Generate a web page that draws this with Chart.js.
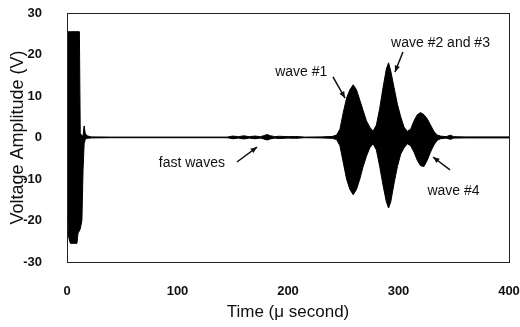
<!DOCTYPE html>
<html>
<head>
<meta charset="utf-8">
<script src="https://cdn.jsdelivr.net/npm/chart.js@4.4.1/dist/chart.umd.min.js"></script>
<style>
  html, body { margin: 0; padding: 0; background: #fff; }
  #wrap { width: 520px; height: 327px; }
</style>
</head>
<body>
<div id="wrap"><canvas id="wave-chart"></canvas></div>
<script>
// time in microseconds, envelope of the received signal in volts
const timeUs = [
  0, 0.5, 1.5, 3, 9, 10, 11.2, 12, 13.5, 14.5, 15.5, 16.5, 18, 22, 40, 80, 120,
  145, 150, 155, 160, 165, 170, 175, 178, 181, 184, 188, 192, 200, 207, 215, 230, 240,
  244, 247, 250, 253, 256, 259, 262, 265, 268, 271, 274, 277,
  280, 283, 286, 289, 291, 293, 296, 299, 302, 305, 308,
  311, 314, 317, 320, 323, 326, 329, 332, 335, 338,
  343, 347, 350, 360, 400
];
const upperV = [
  0, 25.5, 25.5, 25.5, 25.5, 25.5, 25.5, 1, 0.5, 0.3, 2.8, 1, 0.4, 0.15, 0.1, 0.1, 0.1,
  0.1, 0.35, 0.2, 0.4, 0.2, 0.35, 0.2, 0.45, 0.7, 0.45, 0.2, 0.3, 0.2, 0.25, 0.1, 0.15, 0.25,
  0.6, 2, 6, 9.5, 11.5, 12.7, 11.5, 9, 6.5, 4, 2.5, 1.5,
  3, 7, 12, 16.5, 18, 16, 12, 8, 5, 2.5, 1.5,
  2, 4, 5.5, 6, 5.5, 4.5, 3, 1.5, 0.6, 0.35,
  0.2, 0.55, 0.2, 0.15, 0.15
];
const lowerV = [
  0, -17, -24, -25.5, -25.5, -23, -22.5, -22, -20, -8, -1.5, -0.5, -0.2, -0.1, -0.05, -0.05, -0.05,
  -0.05, -0.3, -0.15, -0.35, -0.15, -0.3, -0.15, -0.35, -0.6, -0.35, -0.15, -0.25, -0.15, -0.2, -0.05, -0.1, -0.2,
  -0.5, -2, -6, -10, -12.5, -13.8, -12.5, -10, -7, -4.5, -2.5, -1.5,
  -3, -7, -11.5, -15.5, -17, -15.5, -11, -7, -4, -2.5, -1.5,
  -2, -3.5, -5.5, -6.8, -7, -5.5, -3.5, -1.8, -0.7, -0.3,
  -0.15, -0.45, -0.15, -0.1, -0.1
];
const xTicks = [0, 100, 200, 300, 400];
const yTicks = [-30, -20, -10, 0, 10, 20, 30];

// callouts: label anchor and arrow, in data units
const notes = [
  { text: "wave #1", x: 212, y: 15.8, from: [240.7, 14.6], to: [251.6, 9.5] },
  { text: "wave #2 and #3", x: 338, y: 22.8, from: [304, 20.6], to: [296.8, 15.8] },
  { text: "fast waves", x: 113, y: -6.1, from: [153.8, -5.9], to: [172, -2.3] },
  { text: "wave #4", x: 349.8, y: -12.9, from: [346.6, -7.8], to: [331.2, -4.7] }
];

const FONT = "'Liberation Sans', Arial, sans-serif";

const frameAndNotes = {
  id: "frameAndNotes",
  afterDraw(chart) {
    const { ctx, chartArea: a, scales: { x, y } } = chart;
    ctx.save();
    ctx.strokeStyle = "#222";
    ctx.lineWidth = 1;
    ctx.strokeRect(a.left + 0.5, a.top + 0.5, a.right - a.left, a.bottom - a.top);

    ctx.fillStyle = "#111";
    ctx.font = "14px " + FONT;
    ctx.textAlign = "center";
    ctx.textBaseline = "middle";
    notes.forEach(n => {
      ctx.fillText(n.text, x.getPixelForValue(n.x), y.getPixelForValue(n.y));
      const x1 = x.getPixelForValue(n.from[0]), y1 = y.getPixelForValue(n.from[1]);
      const x2 = x.getPixelForValue(n.to[0]), y2 = y.getPixelForValue(n.to[1]);
      ctx.strokeStyle = "#111";
      ctx.lineWidth = 1.5;
      ctx.beginPath();
      ctx.moveTo(x1, y1);
      ctx.lineTo(x2, y2);
      ctx.stroke();
      const ang = Math.atan2(y2 - y1, x2 - x1);
      const len = 7;
      ctx.beginPath();
      ctx.moveTo(x2, y2);
      ctx.lineTo(x2 - len * Math.cos(ang - 0.4), y2 - len * Math.sin(ang - 0.4));
      ctx.lineTo(x2 - len * Math.cos(ang + 0.4), y2 - len * Math.sin(ang + 0.4));
      ctx.closePath();
      ctx.fill();
    });
    ctx.restore();
  }
};

// pin the plot box; drop the extra room chart.js keeps for edge labels
function fixSize(s, prop, size) {
  s[prop] = size;
  s.paddingLeft = s.paddingRight = s.paddingTop = s.paddingBottom = 0;
}

const ctx = document.getElementById("wave-chart").getContext("2d");

new Chart(ctx, {
  type: "line",
  data: {
    datasets: [
      {
        label: "upper",
        data: timeUs.map((t, i) => ({ x: t, y: upperV[i] })),
        borderColor: "#000",
        backgroundColor: "#000",
        borderWidth: 1,
        pointRadius: 0,
        tension: 0,
        fill: "+1"
      },
      {
        label: "lower",
        data: timeUs.map((t, i) => ({ x: t, y: lowerV[i] })),
        borderColor: "#000",
        borderWidth: 1,
        pointRadius: 0,
        tension: 0,
        fill: false
      }
    ]
  },
  options: {
    responsive: true,
    maintainAspectRatio: false,
    animation: false,
    layout: { padding: { top: 13, right: 11, left: 0, bottom: 0 } },
    plugins: { legend: { display: false }, tooltip: { enabled: false } },
    scales: {
      x: {
        type: "linear",
        min: 0,
        max: 400,
        afterBuildTicks: s => { s.ticks = xTicks.map(v => ({ value: v })); },
        afterFit: s => fixSize(s, "height", 65),
        grid: { display: false },
        border: { display: false },
        ticks: { color: "#111", padding: 14, maxRotation: 0, font: { family: FONT, size: 13, weight: "bold" } },
        title: {
          display: true,
          text: "Time (μ second)",
          color: "#111",
          padding: { top: 0, bottom: 4 },
          font: { family: FONT, size: 17 }
        }
      },
      y: {
        min: -30,
        max: 30,
        afterBuildTicks: s => { s.ticks = yTicks.map(v => ({ value: v })); },
        afterFit: s => fixSize(s, "width", 67),
        grid: { display: false },
        border: { display: false },
        ticks: { color: "#111", padding: 17, font: { family: FONT, size: 13, weight: "bold" } },
        title: {
          display: true,
          text: "Voltage Amplitude (V)",
          color: "#111",
          padding: { top: 7, bottom: 0 },
          font: { family: FONT, size: 18 }
        }
      }
    }
  },
  plugins: [frameAndNotes]
});
</script>
</body>
</html>
